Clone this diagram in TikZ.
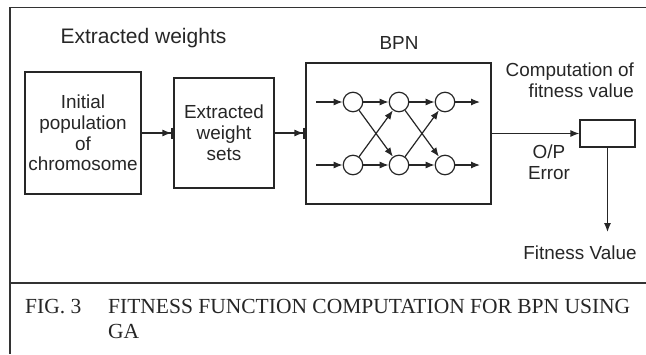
\documentclass[tikz,border=0pt]{standalone}
\usepackage{fontspec}
\setmainfont{Liberation Serif}
\setsansfont{Liberation Sans}
\usetikzlibrary{arrows.meta}

\begin{document}
\begin{tikzpicture}[x=1pt,y=-1pt,
  ink/.style={draw=black!85, line width=1.2pt},
  blk/.style={ink, fill=white, inner sep=0pt, align=center,
    font=\sffamily\fontsize{18.9}{20.8}\selectfont, text=black!85},
  lbl/.style={font=\sffamily\fontsize{18.9}{20.5}\selectfont, inner sep=0pt, text=black!85},
  neuron/.style={circle, ink, minimum size=19.5pt, inner sep=0pt},
  arr/.style={ink, -{Latex[length=9pt,width=7pt]}},
  arrbar/.style={ink, -{Latex[length=9pt,width=7pt,sep=0pt]Bar[width=11pt,line width=2pt]}},
  rule/.style={draw=black!80, line width=1.3pt},
  caption/.style={font=\fontsize{21.5}{25}\selectfont, inner sep=0pt, anchor=base west, text=black!85},
]
\useasboundingbox (0,0) rectangle (646,354);

% outer frame and caption separator
\coordinate (tl) at (10,7.5);
\coordinate (tr) at (646,7.5);
\coordinate (bl) at (10,354);
\coordinate (ml) at (10,283);
\coordinate (mr) at (646,283);
\draw[rule] (tr) -- (tl) -- (bl);
\draw[rule] (ml) -- (mr);

% headings
\node[lbl, font=\sffamily\fontsize{21}{22}\selectfont] (hdr) at (143.5,38.5) {Extracted weights};
\node[lbl] (bpnlbl) at (399,43) {BPN};

% main blocks
\node[blk, minimum width=116pt, minimum height=122pt] (init) at (83,133)
  {Initial\\population\\of\\chromosome};
\node[blk, minimum width=100pt, minimum height=110pt] (ews) at (224,133)
  {Extracted\\weight\\sets};
\node[blk, minimum width=185pt, minimum height=141pt] (bpn) at (398.5,133.5) {};
\node[blk, minimum width=55pt, minimum height=27pt] (fit) at (607.5,133.5) {};

\draw[arrbar] (init.east) -- (ews.west);
\draw[arrbar] (ews.east) -- (ews.east -| bpn.west);

% network inside the BPN block
\node[neuron] (n11) at (353,102) {};
\node[neuron] (n12) at (399,102) {};
\node[neuron] (n13) at (445,102) {};
\node[neuron] (n21) at (353,165) {};
\node[neuron] (n22) at (399,165) {};
\node[neuron] (n23) at (445,165) {};
\coordinate (in1) at (316,102);
\coordinate (in2) at (316,165);
\coordinate (out1) at (480,102);
\coordinate (out2) at (480,165);

\draw[arr] (in1) -- (n11);
\draw[arr] (in2) -- (n21);
\draw[arr] (n11) -- (n12);
\draw[arr] (n12) -- (n13);
\draw[arr] (n21) -- (n22);
\draw[arr] (n22) -- (n23);
\draw[arr] (n11) -- (n22);
\draw[arr] (n21) -- (n12);
\draw[arr] (n12) -- (n23);
\draw[arr] (n22) -- (n13);
\draw[arr] (n13) -- (out1);
\draw[arr] (n23) -- (out2);

% fitness computation
\draw[arr] (bpn.east) -- (fit.west);
\node[lbl, align=right, anchor=east] (comp) at (634,80) {Computation of\\fitness value};
\node[lbl, align=center] (ope) at (549,162) {O/P\\Error};
\coordinate (fvend) at (607.5,232);
\draw[arr] (fit.south) -- (fvend);
\node[lbl] (fv) at (580,253) {Fitness Value};

% caption
\node[caption] (fig) at (25,313) {FIG. 3};
\node[caption] (cap1) at (108,313) {FITNESS FUNCTION COMPUTATION FOR BPN USING};
\node[caption] (cap2) at (108,338) {GA};
\end{tikzpicture}
\end{document}
